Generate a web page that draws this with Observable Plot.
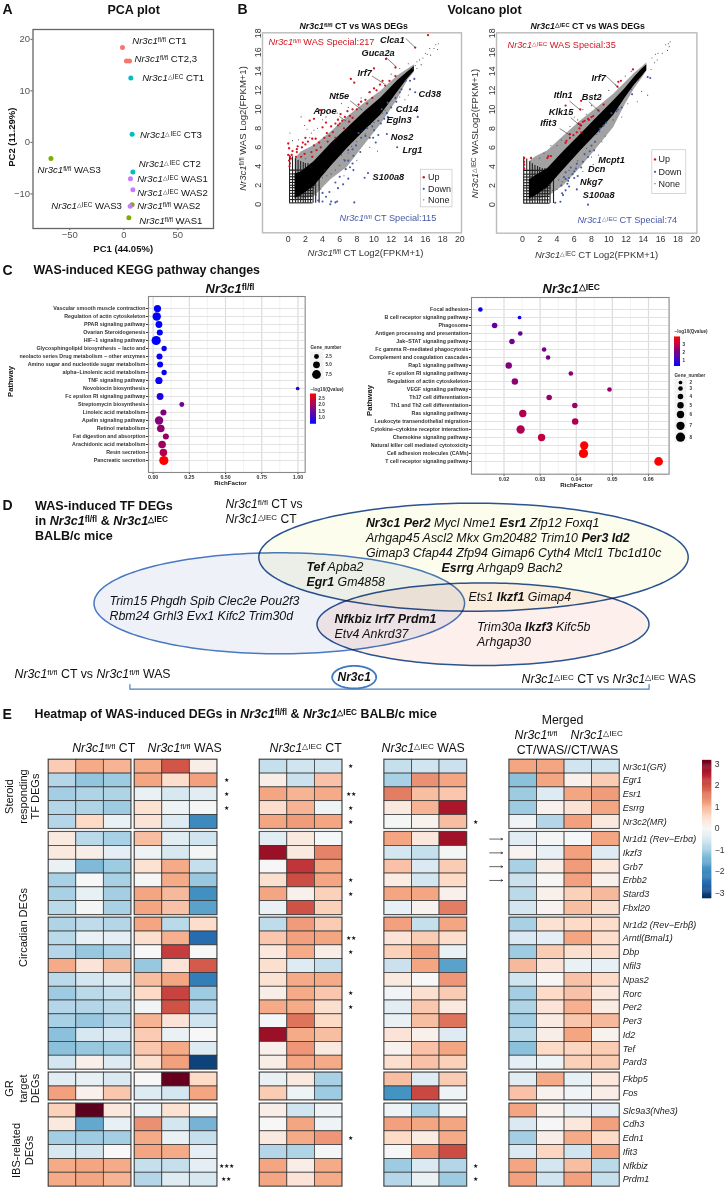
<!DOCTYPE html>
<html>
<head>
<meta charset="utf-8">
<script src="https://cdn.jsdelivr.net/npm/d3@7"></script>
<script src="https://cdn.jsdelivr.net/npm/@observablehq/plot@0.6"></script>
<style>
html,body{margin:0;padding:0;background:#fff}
#page{position:relative;width:727px;height:1189px;overflow:hidden}
#page svg{position:absolute}
</style>
</head>
<body>
<div id="page"></div>
<script>
const FL = "<i>Nr3c1</i><s>fl/fl</s>", IEC = "<i>Nr3c1</i><s>△IEC</s>";

/* ---------- A: PCA ---------- */
const pcaPC1 = [-1.2, 2.5, 5.3, 6.5, 7.7, 8.4, 6.2, 8.4, 7.7, 5.9, 4.7, -67.4];
const pcaPC2 = [18.4, 15.8, 15.8, 12.5, 1.6, -5.75, -7.05, -9.2, -12.1, -12.4, -14.6, -3.1];
const pcaGroup = ["flCT","flCT","flCT","iecCT","iecCT","iecCT","iecWAS","iecWAS","flWAS","iecWAS","flWAS","flWAS"];
const pcaLabels = [FL+" CT1",FL+" CT2,3","%I CT1","%I CT3","%I CT2","%I WAS1","%I WAS2",FL+" WAS2",FL+" WAS1",FL+" WAS3","%I WAS3"].map(s=>s.replace("%I",IEC));
const pcaLabelX = [7.8, 9.9, 17, 14.9, 13.9, 12.4, 12.4, 12.4, 14.3, -79.8, -67.1];
const pcaLabelY = [19.6, 16.2, 12.5, 1.5, -4.2, -7, -9.8, -12.4, -15.2, -5.3, -12.4];

/* ---------- B: volcano, left ---------- */
const bandXL  = [0.8,1.5,3.03,5,6.9,8.85,10.8,12.74,13.9,14.7];
const coreLoL = [0.6,0.9,1.9,4,5.9,7.7,9.4,11.8,13.2,14];
const coreHiL = [3.2,3.4,4.5,6.4,8,9.7,11.2,13,13.9,14.5];
const haloLoL = [.3,.5,.8,2.6,3.9,6.2,8.4,11,13,13.9];
const haloHiL = [4.8,5.5,6.2,7.6,9.2,10.6,11.9,13.5,14.2,14.7];
const latticeLevels = [.15,.5,.85,1.15,1.45,1.75,2.0,2.3,2.6,2.9,3.2,3.6];
const latticeColEndL = [5.1,5,4.8,4.6,4.5,4.4,4.3,4.3,4.2,4.2,4.3,4.5];
const latticeRowEndL = [2.9,2.9,2.9,3,3,3.1,3.2,3.3,3.4,3.5,3.7,3.9];
const upL = [[0,6.4],[0.1,5.9],[0,5.2],[0.2,5.0],[0.3,4.8],[0.1,4.6],[0.2,4.3],[0.15,4],[0.5,5.6],[0.4,5.2],[1.0,5.8],[1,5.5],[1.1,6.1],[1.7,6.5],[2,6.3],[2.3,6.6],[1.9,5.3],[2.7,5.5],[2,7],[2.8,6.9],[2.5,8.8],[3,9],[3.7,9.9],[4,8.1],[4.4,8.6],[4.5,7.5],[5,8.2],[4.8,7.2],[5.5,8.5],[5.2,7.6],[5.8,8.3],[4.2,7],[3.6,6.5],[3.8,6],[3.3,5.7],[3.2,6.9],[4.6,6.6],[5.5,7],[6,8.5],[6.1,9.5],[6.3,8.8],[6.6,9.2],[6.9,9.8],[7.2,9.3],[7.1,8.7],[7.5,9.1],[7.5,10],[7.3,13.2],[7.7,12.8],[10,14.3],[11.4,15.3],[12.5,14.4],[14.8,16.5],[16.3,17.8],[9,11],[8.5,10.8],[9.5,11.8],[9.8,11.2],[10.3,12.0],[10.7,12.6],[11,13],[11.3,12.5],[11.8,13],[12.5,13.5],[10,12.2],[9.2,10.6],[8.2,10.5],[8,10],[5.8,8.9],[6.5,8],[2.8,5],[3,6.2],[1.5,5],[1.6,6],[0.9,5]];
const downL = [[15.1,9.2],[14.8,11.8],[14.2,12.1],[14.7,13.2],[14.2,13],[13.7,13],[13.2,12.1],[13,11.8],[12.5,11.2],[12.6,10.8],[12,10.2],[11.5,9.6],[11.6,9.2],[11.2,9],[10.8,8.5],[10.5,8.8],[10.9,10],[11.6,10.7],[11.5,7.4],[10.5,7.3],[10,7.8],[9.9,7],[9.8,8.2],[9.2,8.0],[9.5,7],[10.2,6.5],[8.2,7.5],[8.5,7],[9.0,7.2],[12.7,6],[7.9,6.2],[8.4,5.5],[7.5,5.8],[7.6,5.1],[7,5.7],[7,4.6],[7.5,4.3],[7.2,3.9],[7.6,3.6],[6.6,4.6],[6.7,3.7],[9.3,3.3],[8.9,2.8],[6,2.9],[7,2.7],[6.4,2.1],[5.5,2.3],[5.8,1.7],[4.8,1.3],[4,1.2],[4.4,.8],[5,.3],[5.7,.3],[5.5,.2],[4.9,0],[7.7,.2],[3.5,.4],[4,.3]];
const noneL = [[14.5,14.3],[15,15],[15.3,15.2],[15.7,15.4],[16,15.9],[16.2,15.8],[16.5,16.4],[17,16.4],[17.2,16.8],[17.5,16.9],[17.4,16.3],[15,14.3],[15.5,14.7],[14.8,14.6],[16.6,15.7],[2.7,7.5],[1.5,9.2],[0.2,7.5],[2,4.8],[2.5,7],[3,7.8],[4,8.9],[5,9.7],[6.2,10.6],[4.4,9.2],[1.2,6.8],[2.2,7.9],[3,1.3],[3.5,2],[4,2.8],[4.5,3],[5,3.2],[5.5,3.6],[6,4.1],[6.5,4.7],[7,5.4],[8,6.6],[9,7.4],[10,8.6],[11,9.6],[12,11],[13,11.3],[13.6,11],[14,11.5],[12.2,9.1],[10.4,5.6],[9.5,6],[8,4.6],[6.5,3],[2.9,1.5],[3.3,1],[3.8,1.6],[8.5,11.2],[9.4,11.8],[10.7,12.6],[7,10.2],[5.7,9.6],[12,13.7],[13,14.3],[14,14.8],[3.4,8],[0.5,6.7],[1.9,8.3],[4.2,3.6],[5.2,4.4],[6.2,5.2],[7.4,6.1],[8.6,7.8],[9.6,8.4],[11.3,9.9]];

/* ---------- B: volcano, right ---------- */
const bandXR  = [.8,1.5,2.94,4.8,6.76,8.7,10.57,11.9,13,13.8,14.4];
const coreLoR = [.6,.9,1.8,3.7,5.65,7.5,9.4,11.2,12.6,13.4,14.1];
const coreHiR = [2.6,3,3.8,5.6,7.4,9.2,10.9,12.2,13.4,14.2,14.7];
const haloLoR = [.3,.5,.8,2,3.9,6,8.1,10.5,12.2,13.2,14];
const haloHiR = [4.5,5,5.65,7.2,8.8,10.2,11.6,12.8,13.8,14.4,14.9];
const latticeColEndR = [5,4.8,4.5,4.3,4.1,4,3.9,3.8,3.8,3.8,3.8,4];
const latticeRowEndR = [3.2,3.2,3.2,3.2,3.2,3.3,3.3,3.4,3.5,3.6,3.8,4];
const upR = [[0.2,4.9],[0.2,4.5],[0.2,4.2],[0.2,3.8],[1,4.9],[2.9,4.9],[3,5.1],[3.3,5.1],[5,10.4],[6.8,10.9],[6.7,10],[5,6.5],[5.1,6.7],[5.5,7],[5.9,7.3],[6.3,7.6],[6.6,8],[6.7,8.4],[6.8,8.3],[6.5,8.5],[7,8.7],[7.2,8.8],[7.6,9],[8,9.2],[8.2,9.3],[8.8,9.9],[9.4,10.5],[7.7,8.9],[6.8,7.6],[5.5,7.4],[11.4,13],[11.1,12.9],[12.8,14.2],[11,12.4]];
const downR = [[14.5,13.4],[14.8,13.3],[12.7,11.6],[11.5,10.2],[11.1,10],[10.9,9.8],[10.3,9.6],[9.7,8.6],[9.4,8.3],[9,8],[8.9,7.7],[8.4,6.6],[8,6.2],[8.3,5.7],[7.8,5.6],[7.2,5.3],[7.6,5],[7,4.5],[6.3,4.3],[6.8,3.9],[6.2,3.8],[6,3.5],[5.8,3.2],[6.4,3],[6,2.8],[5.4,2.8],[5.3,2.5],[5,2.7],[4.8,2.9],[5.2,2.2],[5.4,1.9],[5,1.5],[6.3,1.6],[4.6,1.2],[3.8,.2],[4.4,.3],[7.6,0],[5,3.4],[5.6,3.9],[4.5,2],[4.7,1]];
const noneR = [[16.6,16.8],[16.9,16.9],[17.1,17.1],[16.8,16.2],[17,16.6],[15.7,15.9],[15.4,15.8],[16.2,15.9],[15,15.4],[15.3,14.9],[14.9,14.2],[15.6,15.2],[13.8,11.9],[14.5,11.5],[13.3,10.8],[12.2,10.6],[11.5,9.2],[10.5,8.9],[9.6,7.2],[8.8,5.2],[8,5],[9.2,6.6],[8.2,4.2],[7,3.5],[4,6.2],[4.5,6.8],[3.3,6.2],[2.5,5.4],[2,4.9],[5.5,8.2],[6,9.2],[7,10],[8,10.4],[9.1,11.2],[10,12],[10.8,12.6],[6.4,8.9],[7.4,9.5],[4,1.6],[4.6,2.4],[3.5,1.5],[3,1.1],[11.9,13.5],[12.6,14],[13.4,13.1],[12.6,12.1],[5.4,3.6],[6.4,4.6],[7.4,5.9],[8.6,7.4],[4.2,2.6]];

const geneLabelsL = ["Clca1","Guca2a","Irf7","Nt5e","Apoe","Cd38","Cd14","Egln3","Nos2","Lrg1","S100a8"];
const geneXL = [10.7,8.54,8.08,4.78,2.95,15.2,12.54,11.46,11.96,13.32,9.83];
const geneYL = [17.3,15.95,13.77,11.37,9.82,11.58,10.07,8.84,7.08,5.67,2.85];
const leadersL = [[13.7,17.46,14.8,16.5],[11.4,15.45,12.6,14.47],[9.75,13.5,11.25,12.65],[7.2,10.9,8.65,9.9],[5.95,9.25,6.75,8.75]];
const geneLabelsR = ["Irf7","Itln1","Bst2","Klk15","Ifit3","Mcpt1","Dcn","Nkg7","S100a8"];
const geneXR = [8.0,3.63,6.87,3.05,2.06,8.78,7.6,6.68,7.0];
const geneYR = [13.3,11.5,11.34,9.73,8.55,4.7,3.73,2.37,1.0];
const leadersR = [[9.7,13.5,11.15,12.25],[5.45,10.88,6.75,9.9],[7.7,10.8,8.95,9.75],[5.6,9.13,6.75,8.25],[4.3,8.0,5.5,7.3]];
const legendNames = ["Up","Down","None"];

/* ---------- C: KEGG bubbles ---------- */
const keggL = ["Vascular smooth muscle contraction","Regulation of actin cytoskeleton","PPAR signaling pathway","Ovarian Steroidogenesis","HIF−1 signaling pathway","Glycosphingolipid biosynthesis − lacto and","neolacto series Drug metabolism − other enzymes","Amino sugar and nucleotide sugar metabolism","alpha−Linolenic acid metabolism","TNF signaling pathway","Novobiocin biosynthesis","Fc epsilon RI signaling pathway","Streptomycin biosynthesis","Linoleic acid metabolism","Apelin signaling pathway","Retinol metabolism","Fat digestion and absorption","Arachidonic acid metabolism","Resin secretion","Pancreatic secretion"];
const keggLX = [0.03,0.025,0.04,0.046,0.021,0.076,0.044,0.048,0.076,0.04,0.998,0.048,0.198,0.071,0.041,0.053,0.088,0.062,0.071,0.074];
const keggLG = [5.5,7,5,4,8,3,4,4,3,5.5,1,5,2.5,4,7,6,4,6,6,8];
const keggLQ = [.6,.6,.6,.6,.6,.65,.65,.65,.65,.72,1.05,.85,1.6,1.75,1.82,1.87,1.95,2.05,2.2,2.9];
const keggR = ["Focal adhesion","B cell receptor signaling pathway","Phagosome","Antigen processing and presentation","Jak−STAT signaling pathway","Fc gamma R−mediated phagocytosis","Complement and coagulation cascades","Rap1 signaling pathway","Fc epsilon RI signaling pathway","Regulation of actin cytoskeleton","VEGF signaling pathway","Th17 cell differentiation","Th1 and Th2 cell differentiation","Ras signaling pathway","Leukocyte transendothelial migration","Cytokine−cytokine receptor interaction","Chemokine signaling pathway","Natural killer cell mediated cytotoxicity","Cell adhesion molecules (CAMs)","T cell receptor signaling pathway"];
const keggRX = [0.01346,0.0243,0.0174,0.0245,0.0222,0.0311,0.0322,0.0213,0.0385,0.0230,0.0492,0.0325,0.0396,0.0252,0.0397,0.0246,0.0304,0.0422,0.0420,0.0628];
const keggRG = [3,2,4,3,4,3,3,5,3,5,3,4,4,6,5,7,6,7,8,7.5];
const keggRQ = [.5,.7,1.8,1.85,2.0,2.1,2.1,2.25,2.3,2.4,2.45,2.55,2.6,2.85,2.85,2.85,3.1,4,4,4];

/* ---------- D: Venn text ---------- */
const vennTop = ["<b>Nr3c1 Per2</b> Mycl Nme1 <b>Esr1</b> Zfp12 Foxq1","Arhgap45 Ascl2 Mkx Gm20482 Trim10 <b>Per3 Id2</b>","Gimap3 Cfap44 Zfp94 Gimap6 Cyth4 Mtcl1 Tbc1d10c"];
const vennRest = ["<b>Esrrg</b> Arhgap9 Bach2","<b>Tef</b> Apba2","<b>Egr1</b> Gm4858","Ets1 <b>Ikzf1</b> Gimap4","Trim15 Phgdh Spib Clec2e Pou2f3","Rbm24 Grhl3 Evx1 Kifc2 Trim30d","<b>Nfkbiz Irf7 Prdm1</b>","Etv4 Ankrd37","Trim30a <b>Ikzf3</b> Kifc5b","Arhgap30"];

/* ---------- E: heatmap ---------- */
const heatGenes = ["Nr3c1(GR)","Egr1","Esr1","Esrrg","Nr3c2(MR)","Nr1d1 (Rev−Erbα)","Ikzf3","Grb7","Erbb2","Stard3","Fbxl20","Nr1d2 (Rev−Erbβ)","Arntl(Bmal1)","Dbp","Nfil3","Npas2","Rorc","Per2","Per3","Id2","Tef","Pard3","Fkbp5","Fos","Slc9a3(Nhe3)","Cdh3","Edn1","Ifit3","Nfkbiz","Prdm1"];
const flCT = [[.75,1.1,1.0],[-.85,-1.15,-1.05],[-1.0,-.9,-.9],[-.85,-.9,-1.05],[-.85,.6,-.2],[.3,-.8,-.95],[.3,.2,-.3],[-.2,-1.3,-1.05],[-.95,0,-.95],[-.95,-.25,-1.0],[-.8,-.05,-.95],[-.9,-.75,-.85],[-.8,-.2,-.3],[-.85,-1.1,-.95],[1.1,.4,.95],[-.8,-.55,-.4],[-1.05,-.8,-.7],[-.85,-.85,-.8],[-.95,-1.1,-.85],[-1.2,-.5,-.45],[-1.2,-1.1,-1.05],[-.55,.15,-.4],[-.35,-.25,-.45],[1.2,.15,.8],[.7,3.3,.35],[.3,-1.55,-.25],[-1.0,-1.05,-1.0],[-.5,-.55,0],[1.1,1.15,1.1],[1.1,1.15,1.0]];
const flWAS = [[1.1,1.95,.2],[1.15,.55,1.2],[-.2,-.5,-.35],[.45,-.15,-.05],[.4,-.4,-2.0],[.9,-.35,-.6],[-.15,-.5,-.05],[.45,1.1,-.7],[-.05,1.1,-1.1],[1.15,.95,-1.9],[1.15,.85,-1.65],[1.15,-.8,.55],[.5,1.05,-2.5],[0,2.2,0],[-1.1,.4,1.9],[.9,1.15,-2.2],[.6,2.15,-1.05],[-.1,2.0,-.85],[1.0,.4,-.6],[.75,-.2,0],[.8,1.1,-.4],[.5,1.2,-3.0],[0,3.2,.6],[-.4,-.55,1.15],[-.2,.45,-.05],[1.35,-.55,-1.4],[1.1,-.2,-.7],[1.15,1.1,-.3],[-.7,-.7,-.3],[-.85,-.4,-.5]];
const iecCT = [[-.7,-.6,-.6],[.2,-.65,.85],[1.15,1.0,1.1],[.55,1.0,-.15],[1.15,1.25,1.15],[-.35,.3,-.03],[2.8,.3,1.5],[-.02,2.3,1.15],[.5,2.05,1.15],[1.15,.15,.7],[-.2,2.0,.7],[-.75,1.25,.75],[.8,1.2,1.15],[.35,1.1,.2],[.5,-.4,-.7],[.45,1.1,1.1],[.2,1.1,.8],[1.1,1.1,.5],[-.03,1.65,.6],[2.8,1.1,.9],[.15,1.3,.3],[.2,1.15,1.1],[-.2,.3,-.95],[.75,-.15,-1.05],[.2,-.6,-.15],[0,1.15,-.15],[.3,1.1,1.3],[-.85,-.9,-.05],[1.15,.2,1.1],[1.15,.4,1.1]];
const iecWAS = [[-.7,-.6,-.65],[-.95,1.35,1.15],[1.55,.9,.8],[.3,1.0,2.65],[-.05,.1,.9],[1.15,.35,2.75],[-.55,-.7,-.05],[.85,-.45,.75],[.25,-.55,.6],[1.15,1.15,.15],[-.25,.1,1.55],[1.2,-.7,1.15],[.4,.75,.55],[.7,1.2,-.2],[-.65,1.15,-1.65],[.3,0,1.3],[-.1,.5,.75],[-.35,.8,.3],[-.2,.9,1.65],[.4,.15,-.4],[.1,.85,1.15],[.5,.85,.7],[.9,-.4,.75],[-1.85,2.1,-.15],[-.15,-.95,-.05],[1.2,1.15,1.15],[.6,.25,1.1],[-.02,1.25,2.05],[-1.05,-.45,-.85],[-.85,-.2,-1.05]];
const merged = [[1.15,1.15,-.6,-.6],[-1.2,1.15,.15,.75],[-1.05,-.4,1.15,1.25],[-1.05,.12,.45,1.15],[-.12,-.85,1.2,.3],[-.35,-.05,-.03,1.15],[.08,-.25,1.2,-.4],[-.95,.2,1.25,.35],[-.65,.03,1.2,.15],[-.8,.15,.7,.95],[-.55,.08,.9,.5],[-.95,.45,.6,.55],[-.45,-.3,1.15,.55],[-1.05,.75,.5,.55],[.95,.4,-.2,-.25],[-.6,.03,.85,.6],[-1.0,.6,.85,.35],[-.9,.4,1.05,.25],[-1.0,.25,.8,.95],[-.8,.2,1.15,.1],[-1.2,.6,.65,.75],[-.3,-.15,.7,.75],[-.35,1.1,-.25,.35],[.85,.12,-.1,.2],[1.15,.12,-.2,-.3],[-.45,-.02,.35,1.2],[-1.0,.2,1.1,.6],[-.45,.65,-.6,1.15],[1.15,-.55,.9,-.8],[1.2,-.6,1.2,-.7]];
const starsFlWAS = {1:"★",2:"★",3:"★",28:"★★★",29:"★★"};
const starsIecCT = {0:"★",2:"★★",3:"★",4:"★",8:"★",9:"★",12:"★★",13:"★",16:"★",17:"★",26:"★"};
const starsIecWAS = {4:"★",28:"★",29:"★"};
const arrowRows = [5,6,7,8];
const heatStops = [-3.2,-2.6,-1.85,-1.15,-.6,0,.6,1.15,1.85,2.6,3.2];
const heatPalette = ["#053061","#2166ac","#4393c3","#92c5de","#d1e5f0","#f7f7f7","#fddbc7","#f4a582","#d6604d","#b2182b","#67001f"];

/* ---------- helpers ---------- */
const page = document.getElementById("page");
const FONT = "'Liberation Sans', Arial, sans-serif";
function richify(svg){
  svg.querySelectorAll("text").forEach(t=>{
    const s=t.textContent;
    if(!s.includes("<")) return;
    t.textContent=""; t.style.whiteSpace="pre";
    const re=/<(i|b|s)>(.*?)<\/\1>|([^<]+)/g; let m;
    while((m=re.exec(s))){
      const sp=document.createElementNS("http://www.w3.org/2000/svg","tspan");
      if(m[1]==="i"){sp.setAttribute("font-style","italic");sp.textContent=m[2];}
      else if(m[1]==="b"){sp.setAttribute("font-weight","bold");sp.textContent=m[2];}
      else if(m[1]==="s"){sp.setAttribute("font-size","66%");sp.setAttribute("baseline-shift","35%");sp.setAttribute("font-style","normal");sp.textContent=m[2];}
      else sp.textContent=m[3];
      t.appendChild(sp);
    }
  });
}
function place(left,top,opts){
  const style=Object.assign({background:"transparent",overflow:"visible",fontFamily:FONT,maxWidth:"none"},opts.style||{});
  const p=Plot.plot(Object.assign({},opts,{style}));
  p.style.left=left+"px"; p.style.top=top+"px";
  richify(p); page.appendChild(p); return p;
}
const txt=(list,o)=>Plot.text(list,Object.assign({x:d=>d[1],y:d=>d[2],text:d=>d[0],textAnchor:"start",fill:"#111"},o));

/* ---------- page-level layer: headings, axis titles, Venn ---------- */
const ell=(cx,cy,rx,ry)=>d3.range(0,361,2).map(a=>({x:cx+rx*Math.cos(a*Math.PI/180),y:cy+ry*Math.sin(a*Math.PI/180)}));
const vennLine=(pts,fill,stroke,w)=>Plot.line(pts,{x:"x",y:"y",fill,stroke,strokeWidth:w,mixBlendMode:"multiply"});
place(0,0,{
  width:727,height:1189,margin:0,
  x:{type:"identity",axis:null},y:{type:"identity",axis:null},
  marks:[
    vennLine(ell(473,556.7,214.7,54),"#fdfdee","#2a5391",1.5),
    vennLine(ell(278.8,602.8,185.3,50.5),"#eef1f8","#4a78c2",1.5),
    vennLine(ell(482.5,623.7,166,41.3),"#fdefec","#2a5391",1.5),
    vennLine(ell(353.7,676.7,22,11.3),"none","#3f78bd",1.8),
    Plot.line([[129.4,684],[129.4,688.7],[648.6,688.7],[648.6,684]],{x:d=>d[0],y:d=>d[1],stroke:"#4a7ebb",strokeWidth:1.2}),
    // panel letters
    txt([["A",2,9],["B",237,9],["C",2,270],["D",2,505.5],["E",2,714]],{fontSize:14,fontWeight:"bold"}),
    // bold headings
    txt([["PCA plot",107,9.5],["Volcano plot",447,9.5]],{fontSize:12.5,fontWeight:"bold"}),
    txt([["WAS-induced KEGG pathway changes",33,270]],{fontSize:12.4,fontWeight:"bold"}),
    txt([["Heatmap of WAS-induced DEGs in "+FL+" & "+IEC+" BALB/c mice",34,714]],{fontSize:12.4,fontWeight:"bold"}),
    txt([[FL+" CT vs WAS DEGs",299,26],[IEC+" CT vs WAS DEGs",530,26]],{fontSize:8.8,fontWeight:"bold"}),
    txt([[FL,205,288],[IEC,542,288]],{fontSize:13,fontWeight:"bold"}),
    txt([["WAS-induced TF DEGs",34.5,505.7],["in "+FL+" & "+IEC,34.5,520.7],["BALB/c mice",34.5,535.7]],{fontSize:12.6,fontWeight:"bold"}),
    // PCA axis titles
    txt([["PC1 (44.05%)",122.7,248]],{fontSize:9.5,fontWeight:"bold",textAnchor:"middle"}),
    txt([["PC2 (11.29%)",11,136.7]],{fontSize:9.5,fontWeight:"bold",textAnchor:"middle",rotate:-90}),
    // Volcano axis titles
    txt([[FL+" CT Log2(FPKM+1)",365,252.5],[IEC+" CT Log2(FPKM+1)",596,254]],{fontSize:9.5,textAnchor:"middle",fill:"#333"}),
    txt([[FL+" WAS Log2(FPKM+1)",242.5,128],[IEC+" WASLog2(FPKM+1)",474,133]],{fontSize:9.5,textAnchor:"middle",rotate:-90,fill:"#333"}),
    // KEGG axis titles
    txt([["RichFactor",230,482.5],["RichFactor",576,484.5]],{fontSize:6.2,fontWeight:"bold",textAnchor:"middle"}),
    txt([["Pathway",10,381],["Pathway",369,400]],{fontSize:7.6,fontWeight:"bold",textAnchor:"middle",rotate:-90}),
    txt([["Gene_number",310,347],["−log10(Qvalue)",310,388.7],["−log10(Qvalue)",674,331.5],["Gene_number",674,374.7]],{fontSize:4.6,fontWeight:"bold",fill:"#333"}),
    // Venn text
    txt([[FL+" CT vs",225,504],[IEC+" CT",225,518.7]],{fontSize:12.1}),
    txt([[vennTop[0],365.4,522.7],[vennTop[1],365.4,537.3],[vennTop[2],365.4,552.3],[vennRest[0],441,567.7],[vennRest[1],306,566.7],[vennRest[2],306,581.3],[vennRest[3],468,596.3],[vennRest[4],109,600.3],[vennRest[5],109,615.3],[vennRest[6],334,618.3],[vennRest[7],334,633.3],[vennRest[8],476.6,627],[vennRest[9],476.6,642]],{fontSize:12.4,fontStyle:"italic"}),
    txt([[FL+" CT vs "+FL+" WAS",14,674],[IEC+" CT vs "+IEC+" WAS",521,678.3]],{fontSize:12.3}),
    txt([["<b>Nr3c1</b>",353.7,676.7]],{fontSize:12,fontStyle:"italic",textAnchor:"middle"}),
    // heatmap headers
    txt([[FL+" CT",71.7,747.7],[FL+" WAS",147,747.7],[IEC+" CT",269,747.7],[IEC+" WAS",381,747.7]],{fontSize:12.3}),
    txt([["Merged",562,720],["CT/WAS//CT/WAS",567,750]],{fontSize:12.3,textAnchor:"middle"}),
    txt([[FL,514,734.7],[IEC,570,734.7]],{fontSize:12.3}),
    txt([["Steroid",9,796],["responding",22.5,796],["TF DEGs",35,796],["Circadian DEGs",22.5,927],["GR",9,1088],["target",22.5,1088],["DEGs",35,1088],["IBS-related",16,1150],["DEGs",29,1150]],{fontSize:11,textAnchor:"middle",rotate:-90})
  ]
});

/* ---------- A ---------- */
const pcaRows=pcaPC1.map((x,i)=>({x,y:pcaPC2[i],g:pcaGroup[i]}));
const pcaLab=pcaLabels.map((t,i)=>({t,x:pcaLabelX[i],y:pcaLabelY[i]}));
place(0,0,{
  width:230,height:250,marginLeft:32.5,marginRight:17,marginTop:29,marginBottom:22,
  x:{domain:[-84,83],ticks:[-50,0,50],tickSize:2,tickPadding:1,label:null,line:false},
  y:{domain:[-16.7,21.9],ticks:[-10,0,10,20],tickSize:2,tickPadding:1,label:null},
  color:{domain:["flCT","iecCT","flWAS","iecWAS"],range:["#F8766D","#00BFC4","#7CAE00","#C77CFF"]},
  style:{fontSize:"9.5px",color:"#555"},
  marks:[
    Plot.frame({stroke:"#666",strokeWidth:1.3}),
    Plot.dot(pcaRows,{x:"x",y:"y",fill:"g",r:2.5}),
    Plot.text(pcaLab,{x:"x",y:"y",text:"t",textAnchor:"start",fill:"#111",fontSize:9.6})
  ]
});

/* ---------- B ---------- */
function volcano(left,right,top,bottom,cfg){
  const band=cfg.bandX.map((x,i)=>({x,lo:cfg.coreLo[i],hi:cfg.coreHi[i],hl:cfg.haloLo[i],hh:cfg.haloHi[i]}));
  const lat=latticeLevels.map((v,i)=>({v,c:cfg.colEnd[i],r:cfg.rowEnd[i]}));
  const leg=legendNames.map((t,i)=>({t,y:cfg.legY[i]}));
  place(left-26,0,{
    width:right-left+30,height:250,marginLeft:26,marginRight:4,marginTop:top,marginBottom:250-bottom,
    x:{domain:[-3,20.2],ticks:d3.range(0,21,2),tickSize:0,tickPadding:3,label:null},
    y:{domain:[-3,18.05],ticks:d3.range(0,19,2),tickSize:0,tickPadding:2,tickRotate:-90,label:null},
    style:{fontSize:"8.8px",color:"#333"},
    marks:[
      Plot.frame({stroke:"#bbb",strokeWidth:1.4}),
      Plot.areaY(band,{x:"x",y1:"hl",y2:"hh",fill:"#222",fillOpacity:.42}),
      Plot.ruleY(lat,{y:"v",x1:()=>0.15,x2:"r",stroke:"#222",strokeWidth:1.1}),
      Plot.ruleX(lat,{x:"v",y1:()=>0.12,y2:"c",stroke:"#222",strokeWidth:1.1}),
      Plot.areaY(band,{x:"x",y1:"lo",y2:"hi",fill:"#000"}),
      Plot.dot(cfg.none,{x:d=>d[0],y:d=>d[1],r:.55,fill:"#444"}),
      Plot.dot(cfg.down,{x:d=>d[0],y:d=>d[1],r:1.05,fill:"#4557a6"}),
      Plot.dot(cfg.up,{x:d=>d[0],y:d=>d[1],r:1.15,fill:"#d5121e"}),
      Plot.link(cfg.leaders,{x1:d=>d[0],y1:d=>d[1],x2:d=>d[2],y2:d=>d[3],stroke:"#333",strokeWidth:.6}),
      Plot.text(cfg.genes,{x:d=>d[1],y:d=>d[2],text:d=>d[0],textAnchor:"start",fontStyle:"italic",fontWeight:"bold",fontSize:9.2,fill:"#111"}),
      Plot.text([cfg.upTxt],{x:d=>d[1],y:d=>d[2],text:d=>d[0],textAnchor:"start",fill:"#d5121e",fontSize:9.2}),
      Plot.text([cfg.downTxt],{x:d=>d[1],y:d=>d[2],text:d=>d[0],textAnchor:"start",fill:"#4557a6",fontSize:9.2}),
      Plot.rect([cfg.box],{x1:d=>d[0],x2:d=>d[1],y1:d=>d[2],y2:d=>d[3],fill:"#fff",stroke:"#ccc",strokeWidth:.8}),
      Plot.dot(leg.slice(0,1),{x:()=>cfg.legDot,y:"y",r:1.2,fill:"#d5121e"}),
      Plot.dot(leg.slice(1,2),{x:()=>cfg.legDot,y:"y",r:1.1,fill:"#4557a6"}),
      Plot.dot(leg.slice(2,3),{x:()=>cfg.legDot,y:"y",r:.6,fill:"#444"}),
      Plot.text(leg,{x:()=>cfg.legTxt,y:"y",text:"t",textAnchor:"start",fill:"#222",fontSize:9})
    ]
  });
}
const zipLabels=(n,x,y)=>n.map((t,i)=>[t,x[i],y[i]]);
volcano(261.7,460.7,32.3,232.3,{bandX:bandXL,coreLo:coreLoL,coreHi:coreHiL,haloLo:haloLoL,haloHi:haloHiL,colEnd:latticeColEndL,rowEnd:latticeRowEndL,
  up:upL,down:downL,none:noneL,leaders:leadersL,genes:zipLabels(geneLabelsL,geneXL,geneYL),
  upTxt:[FL+" WAS Special:217",-2.3,17.05],downTxt:[FL+" CT Special:115",5.98,-1.44],box:[15.46,19.15,3.63,-0.32],legDot:15.8,legTxt:16.3,legY:[2.85,1.63,.47]});
volcano(496.3,696.7,32.3,232.7,{bandX:bandXR,coreLo:coreLoR,coreHi:coreHiR,haloLo:haloLoR,haloHi:haloHiR,colEnd:latticeColEndR,rowEnd:latticeRowEndR,
  up:upR,down:downR,none:noneR,leaders:leadersR,genes:zipLabels(geneLabelsR,geneXR,geneYR),
  upTxt:[IEC+" WAS Special:35",-1.72,16.8],downTxt:[IEC+" CT Special:74",6.37,-1.6],box:[15.04,18.97,5.72,1.12],legDot:15.35,legTxt:15.75,legY:[4.75,3.45,2.2]});

/* ---------- C ---------- */
const bubbleR=[1.85,4.6];
function bubbles(cfg){
  const [l,r,t,b]=cfg.frame;
  const rows=cfg.names.map((n,i)=>({n,x:cfg.xs[i],g:cfg.gs[i],q:cfg.qs[i]}));
  place(l-148,t,{
    width:r-l+148,height:b-t+14,marginLeft:148,marginRight:0,marginTop:0,marginBottom:14,
    x:{domain:cfg.xd,ticks:cfg.ticks,tickFormat:cfg.fmt,tickSize:2,tickPadding:1,label:null},
    y:{type:"point",domain:cfg.names,range:cfg.yr,tickSize:2,tickPadding:1,label:null},
    r:{type:"linear",domain:cfg.rd,range:bubbleR},
    color:{type:"linear",domain:cfg.qd,range:["#0000ff","#ff0000"],interpolate:"rgb"},
    style:{fontSize:"5.3px",fontWeight:"bold",color:"#333"},
    marks:[
      Plot.ruleX(cfg.minor,{stroke:"#efefef",strokeWidth:.8}),
      Plot.ruleX(cfg.ticks,{stroke:"#dcdcdc",strokeWidth:1.2}),
      Plot.ruleY(cfg.names,{y:d=>d,stroke:"#e2e2e2",strokeWidth:1.2}),
      Plot.frame({stroke:"#888",strokeWidth:1.1}),
      Plot.dot(rows,{x:"x",y:"n",r:"g",fill:"q"})
    ]
  });
}
const fmt2=d3.format(".2f");
bubbles({frame:[148.3,305,296,472],names:keggL,xs:keggLX,gs:keggLG,qs:keggLQ,xd:[-0.032,1.05],ticks:[0,.25,.5,.75,1],minor:[.125,.375,.625,.875],fmt:fmt2,yr:[5,170.7],rd:[1,8],qd:[.6,2.9]});
bubbles({frame:[470.7,668.3,297.3,474],names:keggR,xs:keggRX,gs:keggRG,qs:keggRQ,xd:[0.0110,0.0657],ticks:[.02,.03,.04,.05,.06],minor:[.015,.025,.035,.045,.055],fmt:fmt2,yr:[5,171.7],rd:[2,8],qd:[.4,4]});

function sizeLegend(left,top,vals,pos,rd,w,h,fmt){
  place(left,top,{
    width:w,height:h,margin:0,
    y:{type:"linear",domain:vals,range:pos,axis:null},
    r:{type:"linear",domain:rd,range:bubbleR},
    style:{fontSize:"4.6px",fontWeight:"bold",color:"#333"},
    marks:[
      Plot.frame({fill:"#f3f3f3",stroke:"none",anchor:null}),
      Plot.dot(vals,{y:d=>d,r:d=>d,fill:"#000",frameAnchor:"left",dx:6}),
      Plot.text(vals,{y:d=>d,text:d=>fmt(d),frameAnchor:"left",dx:15,textAnchor:"start",fill:"#333"})
    ]
  });
}
const fmt1=d3.format(".1f");
sizeLegend(309.7,351,[2.5,5,7.5],[5,13.3,23],[1,8],13,28,fmt1);
sizeLegend(674,378,[2,3,4,5,6,7,8],[4,10,18,26.7,36,47.3,58.7],[2,8],12,64,d3.format("d"));

function barLegend(left,top,h,dom,ticks,fmt,w){
  const steps=d3.range(dom[0],dom[1],(dom[1]-dom[0])/60);
  place(left,top,{
    width:w+14,height:h,marginLeft:0,marginRight:14,marginTop:0,marginBottom:0,
    y:{domain:dom,ticks,tickFormat:fmt,axis:"right",tickSize:0,tickPadding:2,label:null},
    color:{type:"linear",domain:dom,range:["#0000ff","#ff0000"],interpolate:"rgb"},
    style:{fontSize:"4.6px",fontWeight:"bold",color:"#333"},
    marks:[Plot.ruleY(steps,{y:d=>d,stroke:d=>d,strokeWidth:1})]
  });
}
barLegend(310,393,29.7,[0.58,2.89],[1,1.5,2,2.5],fmt1,6);
barLegend(674,336,29,[0.4,4],[1,2,3],d3.format("d"),6);

/* ---------- E ---------- */
const groups=[flCT,flWAS,iecCT,iecWAS,merged];
const groupStart=[0,3.127,7.673,12.207,16.753];
const blockFirst=[0,5,11,22,24,30];
const blockStart=[0,5.246,11.449,22.68,24.93];
const blockOf=r=>d3.bisectRight(blockFirst,r)-1;
const rowY=r=>{const b=blockOf(r);return blockStart[b]+(r-blockFirst[b]);};
const cells=[];
groups.forEach((g,gi)=>g.forEach((row,r)=>row.forEach((v,c)=>cells.push({x:groupStart[gi]+c,y:rowY(r),v}))));
const outlines=[];
groups.forEach((g,gi)=>blockStart.forEach((s,b)=>outlines.push({x1:groupStart[gi],x2:groupStart[gi]+g[0].length,y1:s,y2:s+blockFirst[b+1]-blockFirst[b]})));
const starRows=(o,x)=>Object.keys(o).map(k=>({t:o[k],r:+k,x}));
const starsAll=[...starRows(starsFlWAS,6.45),...starRows(starsIecCT,10.98),...starRows(starsIecWAS,15.51)];
place(0,759,{
  width:727,height:430,margin:0,
  x:{domain:[0,20.75],range:[48.3,619],axis:null},
  y:{domain:[0,30.93],range:[0.3,427],axis:null},
  color:{type:"linear",domain:heatStops,range:heatPalette,interpolate:"rgb"},
  marks:[
    Plot.rect(outlines,{x1:"x1",x2:"x2",y1:"y1",y2:"y2",stroke:"#8a8a8a",strokeWidth:1.7}),
    Plot.rect(cells,{x1:"x",x2:d=>d.x+1,y1:"y",y2:d=>d.y+1,fill:"v",stroke:"#2f2f2f",strokeWidth:.7}),
    Plot.text(heatGenes,{x:()=>20.87,y:(d,i)=>rowY(i)+.5,text:d=>d,textAnchor:"start",fontStyle:"italic",fontSize:9,fill:"#222"}),
    Plot.text(starsAll,{x:"x",y:d=>rowY(d.r)+.5,text:"t",textAnchor:"middle",fontSize:5.6,fill:"#111"}),
    Plot.arrow(arrowRows,{x1:()=>16.03,x2:()=>16.5,y1:r=>rowY(r)+.5,y2:r=>rowY(r)+.5,bend:0,headLength:3.5,strokeWidth:.7,stroke:"#222"})
  ]
});
const barSteps=d3.range(-3.2,3.2,.05);
place(702,759.3,{
  width:25,height:137.4,marginLeft:0,marginRight:15.7,marginTop:0,marginBottom:0,
  y:{domain:[-3.17,3.2],ticks:d3.range(-3,4),tickFormat:d=>String(d).replace("-","−"),axis:"right",tickSize:0,tickPadding:3,label:null},
  color:{type:"linear",domain:heatStops,range:heatPalette,interpolate:"rgb"},
  style:{fontSize:"8.6px",color:"#333"},
  marks:[Plot.ruleY(barSteps,{y:d=>d,stroke:d=>d,strokeWidth:1.5})]
});
</script>
</body>
</html>
